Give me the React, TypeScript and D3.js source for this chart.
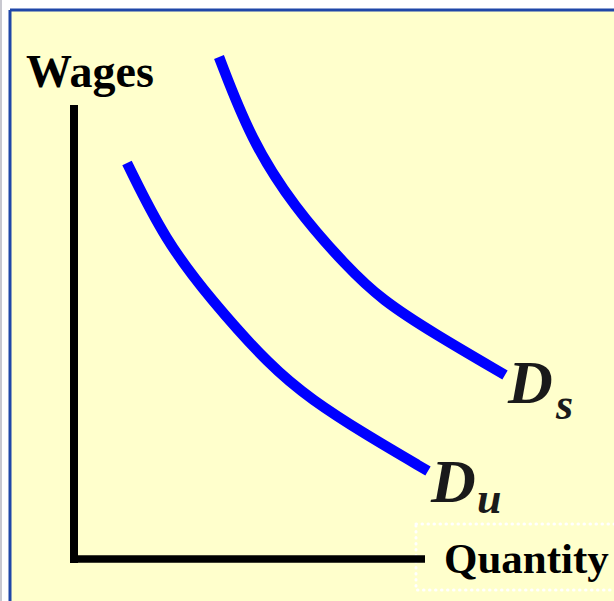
import React from "react";
import * as d3 from "d3";

const W = 614;
const H = 601;

// Demand curves in data units (quantity, wages)
const dsQuantity = [2.9, 3.54, 4.4, 5.46, 6.16, 7.18, 8.62];
const dsWage = [10.04, 8.38, 7.04, 5.84, 5.18, 4.52, 3.68];
const duQuantity = [1.06, 1.82, 2.74, 3.94, 4.76, 5.78, 7.08];
const duWage = [7.92, 6.38, 5.18, 3.84, 3.18, 2.52, 1.76];

const yLabel = "Wages";
const xLabel = "Quantity";
const dsLabel = ["D", "s"];
const duLabel = ["D", "u"];

export default function App() {
  const x = d3.scaleLinear().domain([0, 10]).range([74, 574]);
  const y = d3.scaleLinear().domain([0, 10]).range([559, 59]);

  const line = d3
    .line<[number, number]>()
    .x((d) => x(d[0]))
    .y((d) => y(d[1]))
    .curve(d3.curveBasis);

  const ds = dsQuantity.map((q, i) => [q, dsWage[i]] as [number, number]);
  const du = duQuantity.map((q, i) => [q, duWage[i]] as [number, number]);

  const font = "Liberation Serif, Times New Roman, serif";

  return (
    <svg
      width={W}
      height={H}
      style={{ position: "absolute", left: 0, top: 0, display: "block" }}
    >
      <rect x={0} y={0} width={W} height={H} fill="#ffffff" />
      <rect x={0} y={0} width={2} height={H} fill="#c8c8d0" />
      <rect x={10} y={10} width={W - 10} height={H - 10} fill="#FFFFCC" />
      <line x1={10} y1={10} x2={W} y2={10} stroke="#1f47a8" strokeWidth={3} />
      <line x1={10} y1={10} x2={10} y2={H} stroke="#1f47a8" strokeWidth={3} />

      {/* dotted box around Quantity label */}
      <rect
        x={416}
        y={524}
        width={W - 416 + 10}
        height={66}
        fill="none"
        stroke="#ffffff"
        strokeWidth={3}
        strokeLinecap="round"
        strokeDasharray="0.5 5.5"
      />

      {/* axes */}
      <line x1={x(0)} y1={105} x2={x(0)} y2={y(0) + 4} stroke="#000" strokeWidth={8} />
      <line x1={x(0) - 4} y1={y(0)} x2={425} y2={y(0)} stroke="#000" strokeWidth={7.5} />

      {/* curves */}
      <path d={line(ds) || ""} fill="none" stroke="#0000ff" strokeWidth={10.5} />
      <path d={line(du) || ""} fill="none" stroke="#0000ff" strokeWidth={10.5} />

      <text x={26} y={87} fontFamily={font} fontWeight="bold" fontSize={46} fill="#000">
        {yLabel}
      </text>
      <text x={444} y={573} fontFamily={font} fontWeight="bold" fontSize={43} fill="#000">
        {xLabel}
      </text>

      <text x={508} y={403} fontFamily={font} fontWeight="bold" fontStyle="italic" fontSize={62} fill="#1a1a1a">
        {dsLabel[0]}
      </text>
      <text x={556} y={419} fontFamily={font} fontWeight="bold" fontStyle="italic" fontSize={44} fill="#1a1a1a">
        {dsLabel[1]}
      </text>
      <text x={431} y={502} fontFamily={font} fontWeight="bold" fontStyle="italic" fontSize={62} fill="#1a1a1a">
        {duLabel[0]}
      </text>
      <text x={477} y={513} fontFamily={font} fontWeight="bold" fontStyle="italic" fontSize={44} fill="#1a1a1a">
        {duLabel[1]}
      </text>
    </svg>
  );
}
